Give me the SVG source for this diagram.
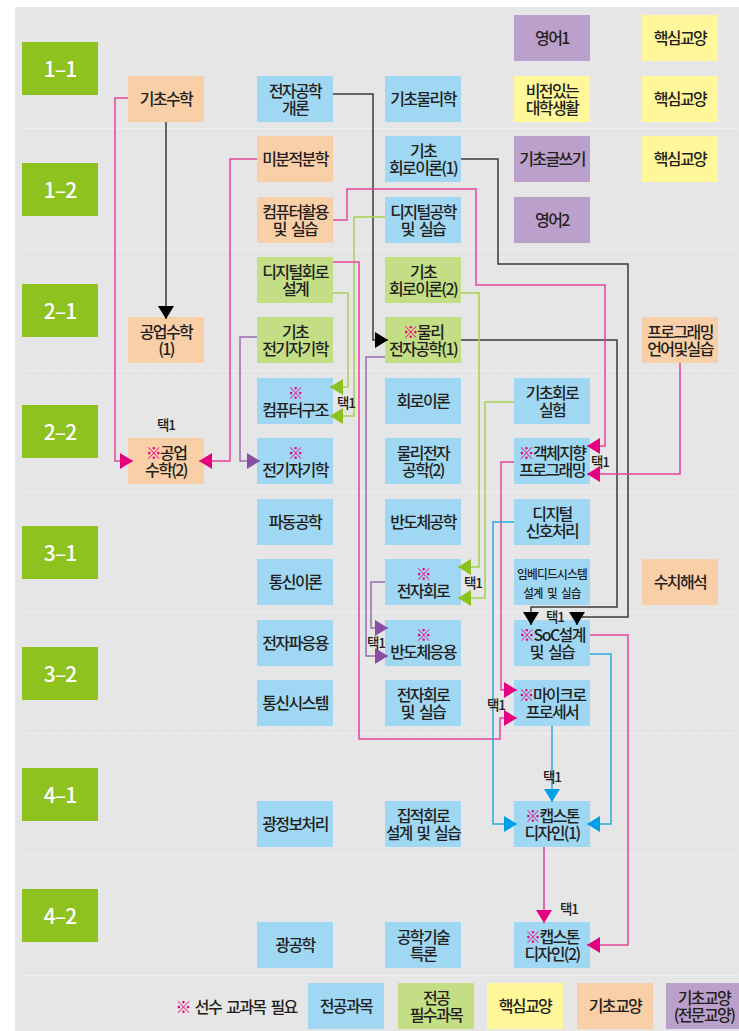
<svg xmlns="http://www.w3.org/2000/svg" width="739" height="1031" viewBox="0 0 739 1031">
<style>
.bl{fill:#a0d8f4}.gr{fill:#c4de86}.or{fill:#f9cfa8}.ye{fill:#fff79a}.pu{fill:#bca0cc}.sem{fill:#8dc21f}
.t{font-family:"Noto Sans CJK KR","Noto Sans",sans-serif;font-size:16px;letter-spacing:-1.6px;word-spacing:3px;fill:#231f20;text-anchor:middle;font-weight:500}
.s{font-size:12px;letter-spacing:-0.8px}
.st{font-family:"Noto Sans CJK KR","Noto Sans",sans-serif;font-size:21px;letter-spacing:-1px;fill:#fff;text-anchor:middle;font-weight:500}
.lb{font-family:"Noto Sans CJK KR","Noto Sans",sans-serif;font-size:13.5px;letter-spacing:-1px;fill:#231f20;text-anchor:middle;font-weight:500}
.m{fill:#e4007f}
.dot{stroke:#fff;stroke-width:1.2;stroke-dasharray:1.2 2;fill:none}
.c{fill:none;stroke-width:1.5}
.k{stroke:#3a3a3a}.p{stroke:#e6449a}.g{stroke:#a8d052}.v{stroke:#9a6db3}.b{stroke:#2aa9e4}
</style>
<defs>
<marker id="ak" markerUnits="userSpaceOnUse" markerWidth="13" markerHeight="16" refX="13" refY="8" orient="auto"><path d="M0,0 L13,8 L0,16 z" fill="#000"/></marker>
<marker id="ap" markerUnits="userSpaceOnUse" markerWidth="13" markerHeight="16" refX="13" refY="8" orient="auto"><path d="M0,0 L13,8 L0,16 z" fill="#e4007f"/></marker>
<marker id="ag" markerUnits="userSpaceOnUse" markerWidth="13" markerHeight="16" refX="13" refY="8" orient="auto"><path d="M0,0 L13,8 L0,16 z" fill="#8cc21f"/></marker>
<marker id="av" markerUnits="userSpaceOnUse" markerWidth="13" markerHeight="16" refX="13" refY="8" orient="auto"><path d="M0,0 L13,8 L0,16 z" fill="#8a4fa3"/></marker>
<marker id="ab" markerUnits="userSpaceOnUse" markerWidth="13" markerHeight="16" refX="13" refY="8" orient="auto"><path d="M0,0 L13,8 L0,16 z" fill="#00a0e9"/></marker>
</defs>
<rect x="15" y="7" width="724" height="1024" fill="#e6e6e6"/>
<g id="grid">
<path class="dot" d="M22,128.5H739M22,249.5H739M22,370.5H739M22,491.5H739M22,612.5H739M22,733.5H739M22,854.5H739M22,975.5H739"/>
</g>
<g id="semesters">
<g id="s11"><rect class="sem" x="22" y="42" width="76" height="53"/><text class="st" x="60" y="77">1–1</text></g>
<g id="s12"><rect class="sem" x="22" y="163" width="76" height="53"/><text class="st" x="60" y="198">1–2</text></g>
<g id="s21"><rect class="sem" x="22" y="284" width="76" height="53"/><text class="st" x="60" y="319">2–1</text></g>
<g id="s22"><rect class="sem" x="22" y="405" width="76" height="53"/><text class="st" x="60" y="440">2–2</text></g>
<g id="s31"><rect class="sem" x="22" y="526" width="76" height="53"/><text class="st" x="60" y="561">3–1</text></g>
<g id="s32"><rect class="sem" x="22" y="647" width="76" height="53"/><text class="st" x="60" y="682">3–2</text></g>
<g id="s41"><rect class="sem" x="22" y="768" width="76" height="53"/><text class="st" x="60" y="803">4–1</text></g>
<g id="s42"><rect class="sem" x="22" y="889" width="76" height="53"/><text class="st" x="60" y="924">4–2</text></g>
</g>
<g id="nodes">
<g id="eng1"><rect class="pu" x="514" y="15" width="76" height="46"/><text class="t" x="552" y="44">영어1</text></g>
<g id="core1"><rect class="ye" x="642" y="15" width="76" height="46"/><text class="t" x="680" y="44">핵심교양</text></g>
<g id="basemath"><rect class="or" x="128" y="76" width="76" height="46"/><text class="t" x="166" y="105">기초수학</text></g>
<g id="intro"><rect class="bl" x="257" y="76" width="76" height="46"/><text class="t"><tspan x="295" y="96.5">전자공학</tspan><tspan x="295" y="113.5">개론</tspan></text></g>
<g id="physics"><rect class="bl" x="385" y="76" width="76" height="46"/><text class="t" x="423" y="105">기초물리학</text></g>
<g id="vision"><rect class="ye" x="514" y="76" width="76" height="46"/><text class="t"><tspan x="552" y="96.5">비전있는</tspan><tspan x="552" y="113.5">대학생활</tspan></text></g>
<g id="core2"><rect class="ye" x="642" y="76" width="76" height="46"/><text class="t" x="680" y="105">핵심교양</text></g>
<g id="calculus"><rect class="or" x="257" y="136" width="76" height="46"/><text class="t" x="295" y="165">미분적분학</text></g>
<g id="circuit1"><rect class="bl" x="385" y="136" width="76" height="46"/><text class="t"><tspan x="423" y="156.5">기초</tspan><tspan x="423" y="173.5">회로이론(1)</tspan></text></g>
<g id="writing"><rect class="pu" x="514" y="136" width="76" height="46"/><text class="t" x="552" y="165">기초글쓰기</text></g>
<g id="core3"><rect class="ye" x="642" y="136" width="76" height="46"/><text class="t" x="680" y="165">핵심교양</text></g>
<g id="computer"><rect class="or" x="257" y="197" width="76" height="46"/><text class="t"><tspan x="295" y="217.5">컴퓨터활용</tspan><tspan x="295" y="234.5">및 실습</tspan></text></g>
<g id="digital"><rect class="bl" x="385" y="197" width="76" height="46"/><text class="t"><tspan x="423" y="217.5">디지털공학</tspan><tspan x="423" y="234.5">및 실습</tspan></text></g>
<g id="eng2"><rect class="pu" x="514" y="197" width="76" height="46"/><text class="t" x="552" y="226">영어2</text></g>
<g id="dcd"><rect class="gr" x="257" y="257" width="76" height="46"/><text class="t"><tspan x="295" y="277.5">디지털회로</tspan><tspan x="295" y="294.5">설계</tspan></text></g>
<g id="circuit2"><rect class="gr" x="385" y="257" width="76" height="46"/><text class="t"><tspan x="423" y="277.5">기초</tspan><tspan x="423" y="294.5">회로이론(2)</tspan></text></g>
<g id="engmath1"><rect class="or" x="128" y="317" width="76" height="46"/><text class="t"><tspan x="166" y="337.5">공업수학</tspan><tspan x="166" y="354.5">(1)</tspan></text></g>
<g id="baseem"><rect class="gr" x="257" y="317" width="76" height="46"/><text class="t"><tspan x="295" y="337.5">기초</tspan><tspan x="295" y="354.5">전기자기학</tspan></text></g>
<g id="physel1"><rect class="gr" x="385" y="317" width="76" height="46"/><text class="t"><tspan x="423" y="337.5"><tspan class="m">※</tspan>물리</tspan><tspan x="423" y="354.5">전자공학(1)</tspan></text></g>
<g id="proglang"><rect class="or" x="642" y="317" width="76" height="46"/><text class="t"><tspan x="680" y="337.5">프로그래밍</tspan><tspan x="680" y="354.5">언어및실습</tspan></text></g>
<g id="arch"><rect class="bl" x="257" y="378" width="76" height="46"/><text class="t"><tspan class="m" x="295" y="398.5">※</tspan><tspan x="295" y="415.5">컴퓨터구조</tspan></text></g>
<g id="circuit"><rect class="bl" x="385" y="378" width="76" height="46"/><text class="t" x="423" y="407">회로이론</text></g>
<g id="circlab"><rect class="bl" x="514" y="378" width="76" height="46"/><text class="t"><tspan x="552" y="398.5">기초회로</tspan><tspan x="552" y="415.5">실험</tspan></text></g>
<g id="engmath2"><rect class="or" x="128" y="438" width="76" height="46"/><text class="t"><tspan x="166" y="458.5"><tspan class="m">※</tspan>공업</tspan><tspan x="166" y="475.5">수학(2)</tspan></text></g>
<g id="em"><rect class="bl" x="257" y="438" width="76" height="46"/><text class="t"><tspan class="m" x="295" y="458.5">※</tspan><tspan x="295" y="475.5">전기자기학</tspan></text></g>
<g id="physel2"><rect class="bl" x="385" y="438" width="76" height="46"/><text class="t"><tspan x="423" y="458.5">물리전자</tspan><tspan x="423" y="475.5">공학(2)</tspan></text></g>
<g id="oop"><rect class="bl" x="514" y="438" width="76" height="46"/><text class="t"><tspan x="552" y="458.5"><tspan class="m">※</tspan>객체지향</tspan><tspan x="552" y="475.5">프로그래밍</tspan></text></g>
<g id="wave"><rect class="bl" x="257" y="499" width="76" height="46"/><text class="t" x="295" y="528">파동공학</text></g>
<g id="semi"><rect class="bl" x="385" y="499" width="76" height="46"/><text class="t" x="423" y="528">반도체공학</text></g>
<g id="dsp"><rect class="bl" x="514" y="499" width="76" height="46"/><text class="t"><tspan x="552" y="519.5">디지털</tspan><tspan x="552" y="536.5">신호처리</tspan></text></g>
<g id="comm"><rect class="bl" x="257" y="559" width="76" height="46"/><text class="t" x="295" y="588">통신이론</text></g>
<g id="elec"><rect class="bl" x="385" y="559" width="76" height="46"/><text class="t"><tspan class="m" x="423" y="579.5">※</tspan><tspan x="423" y="596.5">전자회로</tspan></text></g>
<g id="embedded"><rect class="bl" x="514" y="559" width="76" height="46"/><text class="t s"><tspan x="552" y="579" textLength="70" lengthAdjust="spacingAndGlyphs">임베디드시스템</tspan><tspan x="552" y="598" textLength="57" lengthAdjust="spacingAndGlyphs">설계 및 실습</tspan></text></g>
<g id="numeric"><rect class="or" x="642" y="559" width="76" height="46"/><text class="t" x="680" y="588">수치해석</text></g>
<g id="emwave"><rect class="bl" x="257" y="620" width="76" height="46"/><text class="t" x="295" y="649">전자파응용</text></g>
<g id="semiapp"><rect class="bl" x="385" y="620" width="76" height="46"/><text class="t"><tspan class="m" x="423" y="640.5">※</tspan><tspan x="423" y="657.5">반도체응용</tspan></text></g>
<g id="soc"><rect class="bl" x="514" y="620" width="76" height="46"/><text class="t"><tspan x="552" y="640.5"><tspan class="m">※</tspan>SoC설계</tspan><tspan x="552" y="657.5">및 실습</tspan></text></g>
<g id="commsys"><rect class="bl" x="257" y="680" width="76" height="46"/><text class="t" x="295" y="709">통신시스템</text></g>
<g id="eleclab"><rect class="bl" x="385" y="680" width="76" height="46"/><text class="t"><tspan x="423" y="700.5">전자회로</tspan><tspan x="423" y="717.5">및 실습</tspan></text></g>
<g id="micro"><rect class="bl" x="514" y="680" width="76" height="46"/><text class="t"><tspan x="552" y="700.5"><tspan class="m">※</tspan>마이크로</tspan><tspan x="552" y="717.5">프로세서</tspan></text></g>
<g id="optinfo"><rect class="bl" x="257" y="801" width="76" height="46"/><text class="t" x="295" y="830">광정보처리</text></g>
<g id="ic"><rect class="bl" x="385" y="801" width="76" height="46"/><text class="t"><tspan x="423" y="821.5">집적회로</tspan><tspan x="423" y="838.5" textLength="74" lengthAdjust="spacingAndGlyphs">설계 및 실습</tspan></text></g>
<g id="cap1"><rect class="bl" x="514" y="801" width="76" height="46"/><text class="t"><tspan x="552" y="821.5"><tspan class="m">※</tspan>캡스톤</tspan><tspan x="552" y="838.5">디자인(1)</tspan></text></g>
<g id="optics"><rect class="bl" x="257" y="922" width="76" height="46"/><text class="t" x="295" y="951">광공학</text></g>
<g id="special"><rect class="bl" x="385" y="922" width="76" height="46"/><text class="t"><tspan x="423" y="942.5">공학기술</tspan><tspan x="423" y="959.5">특론</tspan></text></g>
<g id="cap2"><rect class="bl" x="514" y="922" width="76" height="46"/><text class="t"><tspan x="552" y="942.5"><tspan class="m">※</tspan>캡스톤</tspan><tspan x="552" y="959.5">디자인(2)</tspan></text></g>
</g>
<g id="connectors">
<path class="c k" d="M166,122V319" marker-end="url(#ak)"/>
<path class="c p" d="M128,98H115V461H133" marker-end="url(#ap)"/>
<path class="c p" d="M257,159H230V461H199" marker-end="url(#ap)"/>
<path class="c k" d="M333,94H373V340H388" marker-end="url(#ak)"/>
<path class="c k" d="M461,159H498V264H628V617H577V625" marker-end="url(#ak)"/>
<path class="c k" d="M461,340H617V607H531V625" marker-end="url(#ak)"/>
<path class="c p" d="M333,220H347V189H476V285H605V446H587" marker-end="url(#ap)"/>
<path class="c p" d="M680,363V474H587" marker-end="url(#ap)"/>
<path class="c g" d="M385,217H354V416H330" marker-end="url(#ag)"/>
<path class="c g" d="M333,293H348V387H330" marker-end="url(#ag)"/>
<path class="c p" d="M333,262H359V739H500V718H517" marker-end="url(#ap)"/>
<path class="c p" d="M514,462H501V690H517" marker-end="url(#ap)"/>
<path class="c v" d="M257,337H240V461H260" marker-end="url(#av)"/>
<path class="c v" d="M385,357H366V656H388" marker-end="url(#av)"/>
<path class="c v" d="M385,582H371V628H388" marker-end="url(#av)"/>
<path class="c g" d="M461,293H479V567H458" marker-end="url(#ag)"/>
<path class="c g" d="M514,402H485V598H458" marker-end="url(#ag)"/>
<path class="c b" d="M514,522H493V824H517" marker-end="url(#ab)"/>
<path class="c b" d="M552,726V802" marker-end="url(#ab)"/>
<path class="c b" d="M590,654H611V824H587" marker-end="url(#ab)"/>
<path class="c p" d="M590,635H628V945H587" marker-end="url(#ap)"/>
<path class="c p" d="M544,847V923" marker-end="url(#ap)"/>
</g>
<g id="labels">
<text class="lb" x="166" y="430">택1</text>
<text class="lb" x="346" y="408">택1</text>
<text class="lb" x="600" y="467">택1</text>
<text class="lb" x="473" y="588">택1</text>
<text class="lb" x="376" y="648">택1</text>
<text class="lb" x="555" y="622">택1</text>
<text class="lb" x="496" y="710">택1</text>
<text class="lb" x="552" y="782">택1</text>
<text class="lb" x="569" y="914">택1</text>
</g>
<g id="legend">
<text class="t" x="236" y="1013"><tspan class="m">※</tspan> 선수 교과목 필요</text>
<g id="lg1"><rect class="bl" x="308" y="983" width="76" height="46"/><text class="t" x="346" y="1012">전공과목</text></g>
<g id="lg2"><rect class="gr" x="398" y="983" width="76" height="46"/><text class="t"><tspan x="436" y="1003.5">전공</tspan><tspan x="436" y="1020.5">필수과목</tspan></text></g>
<g id="lg3"><rect class="ye" x="487" y="983" width="76" height="46"/><text class="t" x="525" y="1012">핵심교양</text></g>
<g id="lg4"><rect class="or" x="577" y="983" width="76" height="46"/><text class="t" x="615" y="1012">기초교양</text></g>
<g id="lg5"><rect class="pu" x="666" y="983" width="76" height="46"/><text class="t"><tspan x="704" y="1003.5">기초교양</tspan><tspan x="704" y="1020.5">(전문교양)</tspan></text></g>
</g>
</svg>
